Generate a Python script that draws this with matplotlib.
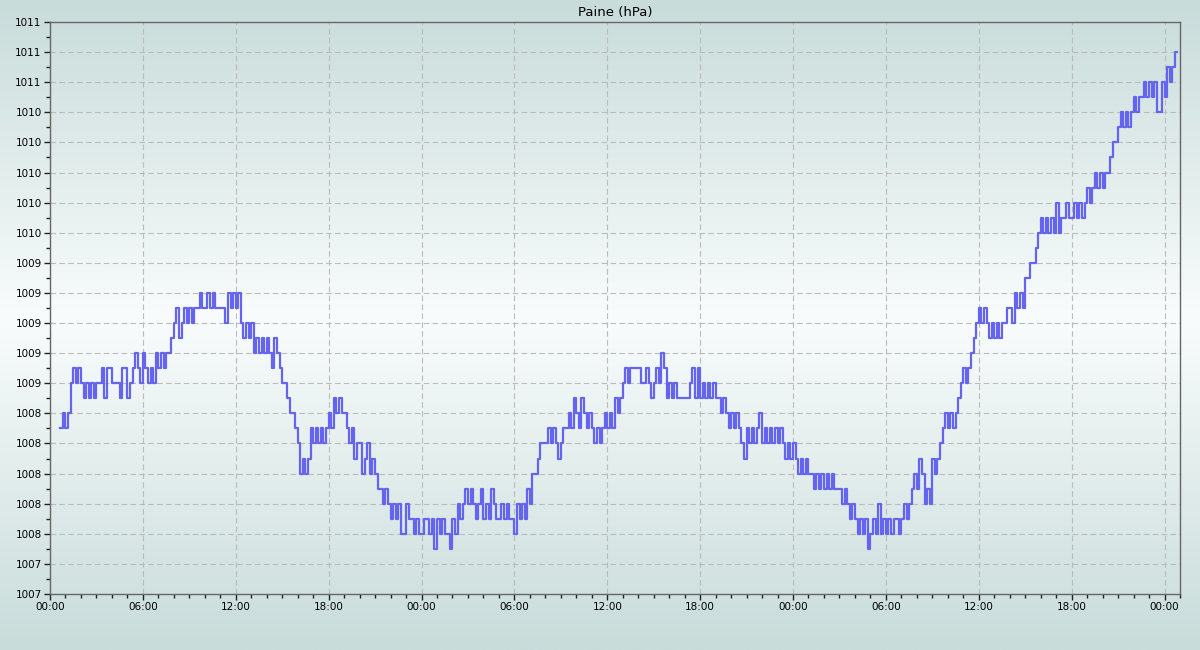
import numpy as np
import matplotlib
matplotlib.use('Agg')
import matplotlib.pyplot as plt
from matplotlib.colors import LinearSegmentedColormap
from matplotlib.ticker import MultipleLocator, FuncFormatter

# pressure readings, one every 10 minutes, starting 00:40 on the first day
start_hour = 40 / 60
step_hour = 10 / 60
pressure = [
    1008.3, 1008.4,                                  # 00h (from 00:40)
    1008.3, 1008.4, 1008.6, 1008.7, 1008.6, 1008.7,  # 01h
    1008.6, 1008.5, 1008.6, 1008.5, 1008.6, 1008.5,  # 02h
    1008.6, 1008.6, 1008.7, 1008.5, 1008.7, 1008.7,  # 03h
    1008.6, 1008.6, 1008.6, 1008.5, 1008.7, 1008.7,  # 04h
    1008.5, 1008.6, 1008.7, 1008.8, 1008.7, 1008.6,  # 05h
    1008.8, 1008.7, 1008.6, 1008.7, 1008.6, 1008.8,  # 06h
    1008.7, 1008.8, 1008.7, 1008.8, 1008.8, 1008.9,  # 07h
    1009.0, 1009.1, 1008.9, 1009.0, 1009.1, 1009.0,  # 08h
    1009.1, 1009.0, 1009.1, 1009.1, 1009.2, 1009.1,  # 09h
    1009.1, 1009.2, 1009.1, 1009.2, 1009.1, 1009.1,  # 10h
    1009.1, 1009.1, 1009.0, 1009.2, 1009.1, 1009.2,  # 11h
    1009.1, 1009.2, 1009.0, 1008.9, 1009.0, 1008.9,  # 12h
    1009.0, 1008.8, 1008.9, 1008.8, 1008.9, 1008.8,  # 13h
    1008.9, 1008.8, 1008.7, 1008.9, 1008.8, 1008.7,  # 14h
    1008.6, 1008.6, 1008.5, 1008.4, 1008.4, 1008.3,  # 15h
    1008.2, 1008.0, 1008.1, 1008.0, 1008.1, 1008.3,  # 16h
    1008.2, 1008.3, 1008.2, 1008.3, 1008.2, 1008.3,  # 17h
    1008.4, 1008.3, 1008.5, 1008.4, 1008.5, 1008.4,  # 18h
    1008.4, 1008.3, 1008.2, 1008.3, 1008.1, 1008.2,  # 19h
    1008.2, 1008.0, 1008.1, 1008.2, 1008.0, 1008.1,  # 20h
    1008.0, 1007.9, 1007.9, 1007.8, 1007.9, 1007.8,  # 21h
    1007.7, 1007.8, 1007.7, 1007.8, 1007.6, 1007.6,  # 22h
    1007.8, 1007.7, 1007.7, 1007.6, 1007.7, 1007.6,  # 23h
    1007.6, 1007.7, 1007.7, 1007.6, 1007.7, 1007.5,  # day 2, 00h
    1007.7, 1007.6, 1007.7, 1007.6, 1007.6, 1007.5,  # 01h
    1007.7, 1007.6, 1007.8, 1007.7, 1007.8, 1007.9,  # 02h
    1007.8, 1007.9, 1007.8, 1007.7, 1007.8, 1007.9,  # 03h
    1007.7, 1007.8, 1007.7, 1007.9, 1007.8, 1007.7,  # 04h
    1007.7, 1007.8, 1007.7, 1007.8, 1007.7, 1007.7,  # 05h
    1007.6, 1007.8, 1007.7, 1007.8, 1007.7, 1007.9,  # 06h
    1007.8, 1008.0, 1008.0, 1008.1, 1008.2, 1008.2,  # 07h
    1008.2, 1008.3, 1008.2, 1008.3, 1008.2, 1008.1,  # 08h
    1008.2, 1008.3, 1008.3, 1008.4, 1008.3, 1008.5,  # 09h
    1008.4, 1008.3, 1008.5, 1008.4, 1008.3, 1008.4,  # 10h
    1008.3, 1008.2, 1008.3, 1008.2, 1008.3, 1008.4,  # 11h
    1008.3, 1008.4, 1008.3, 1008.5, 1008.4, 1008.5,  # 12h
    1008.6, 1008.7, 1008.6, 1008.7, 1008.7, 1008.7,  # 13h
    1008.7, 1008.6, 1008.6, 1008.7, 1008.6, 1008.5,  # 14h
    1008.6, 1008.7, 1008.6, 1008.8, 1008.7, 1008.5,  # 15h
    1008.6, 1008.5, 1008.6, 1008.5, 1008.5, 1008.5,  # 16h
    1008.5, 1008.5, 1008.6, 1008.7, 1008.5, 1008.7,  # 17h
    1008.5, 1008.6, 1008.5, 1008.6, 1008.5, 1008.6,  # 18h
    1008.5, 1008.5, 1008.4, 1008.5, 1008.4, 1008.3,  # 19h
    1008.4, 1008.3, 1008.4, 1008.3, 1008.2, 1008.1,  # 20h
    1008.3, 1008.2, 1008.3, 1008.2, 1008.3, 1008.4,  # 21h
    1008.2, 1008.3, 1008.2, 1008.3, 1008.2, 1008.3,  # 22h
    1008.2, 1008.3, 1008.2, 1008.1, 1008.2, 1008.1,  # 23h
    1008.2, 1008.1, 1008.0, 1008.1, 1008.0, 1008.1,  # day 3, 00h
    1008.0, 1008.0, 1007.9, 1008.0, 1007.9, 1008.0,  # 01h
    1007.9, 1008.0, 1007.9, 1008.0, 1007.9, 1007.9,  # 02h
    1007.9, 1007.8, 1007.9, 1007.8, 1007.7, 1007.8,  # 03h
    1007.7, 1007.6, 1007.7, 1007.6, 1007.7, 1007.5,  # 04h
    1007.6, 1007.7, 1007.6, 1007.8, 1007.6, 1007.7,  # 05h
    1007.6, 1007.7, 1007.6, 1007.7, 1007.7, 1007.6,  # 06h
    1007.7, 1007.8, 1007.7, 1007.8, 1007.9, 1008.0,  # 07h
    1007.9, 1008.1, 1008.0, 1007.8, 1007.9, 1007.8,  # 08h
    1008.1, 1008.0, 1008.1, 1008.2, 1008.3, 1008.4,  # 09h
    1008.3, 1008.4, 1008.3, 1008.4, 1008.5, 1008.6,  # 10h
    1008.7, 1008.6, 1008.7, 1008.8, 1008.9, 1009.0,  # 11h
    1009.1, 1009.0, 1009.1, 1009.0, 1008.9, 1009.0,  # 12h
    1008.9, 1009.0, 1008.9, 1009.0, 1009.0, 1009.1,  # 13h
    1009.1, 1009.0, 1009.2, 1009.1, 1009.2, 1009.1,  # 14h
    1009.3, 1009.3, 1009.4, 1009.4, 1009.5, 1009.6,  # 15h
    1009.7, 1009.6, 1009.7, 1009.6, 1009.7, 1009.6,  # 16h
    1009.8, 1009.6, 1009.7, 1009.7, 1009.8, 1009.7,  # 17h
    1009.7, 1009.8, 1009.7, 1009.8, 1009.7, 1009.8,  # 18h
    1009.9, 1009.8, 1009.9, 1010.0, 1009.9, 1010.0,  # 19h
    1009.9, 1010.0, 1010.0, 1010.1, 1010.2, 1010.2,  # 20h
    1010.3, 1010.4, 1010.3, 1010.4, 1010.3, 1010.4,  # 21h
    1010.5, 1010.4, 1010.5, 1010.5, 1010.6, 1010.5,  # 22h
    1010.6, 1010.5, 1010.6, 1010.4, 1010.4, 1010.6,  # 23h
    1010.5, 1010.7, 1010.6, 1010.7, 1010.8, 1010.8,  # day 4, 00h
]

title = 'Paine (hPa)'
x_range = (0, 73)
y_range = (1007.2, 1011.0)

hours = start_hour + step_hour * np.arange(len(pressure))

fig = plt.figure(figsize=(12, 6.5), dpi=100)

# background gradient over the whole figure
bg_cmap = LinearSegmentedColormap.from_list(
    'bg', [(0.0, '#c8dcda'), (0.49, '#f9fcfc'), (1.0, '#c8dcda')])
bg = fig.add_axes([0, 0, 1, 1], zorder=-1)
bg.imshow(np.linspace(0, 1, 256).reshape(-1, 1), aspect='auto', cmap=bg_cmap,
          extent=[0, 1, 0, 1])
bg.axis('off')

ax = fig.add_axes([50 / 1200, 1 - 594 / 650, 1130 / 1200, 572 / 650])
ax.set_facecolor('none')

ax.step(hours, pressure, where='post', color='#6464ee', lw=1.6, zorder=3)

ax.set_xlim(*x_range)
ax.set_ylim(*y_range)

ax.xaxis.set_major_locator(MultipleLocator(6))
ax.xaxis.set_minor_locator(MultipleLocator(1))
ax.xaxis.set_major_formatter(FuncFormatter(lambda v, p: '%02d:00' % (int(round(v)) % 24)))
ax.yaxis.set_major_locator(MultipleLocator(0.2))
ax.yaxis.set_minor_locator(MultipleLocator(0.1))
ax.yaxis.set_major_formatter(FuncFormatter(lambda v, p: '%.0f' % v))

ax.tick_params(which='major', length=4, width=1, color='#222222', labelsize=7.5, pad=2)
ax.tick_params(which='minor', length=3, width=1, color='#222222')

ax.grid(True, which='major', color='#bbbbbb', ls=(0, (5, 3)), lw=0.8)
for s in ax.spines.values():
    s.set_color('#666666')
    s.set_linewidth(1)

ax.set_title(title, fontsize=9.5, pad=4)

fig.savefig('out.png', dpi=100)
